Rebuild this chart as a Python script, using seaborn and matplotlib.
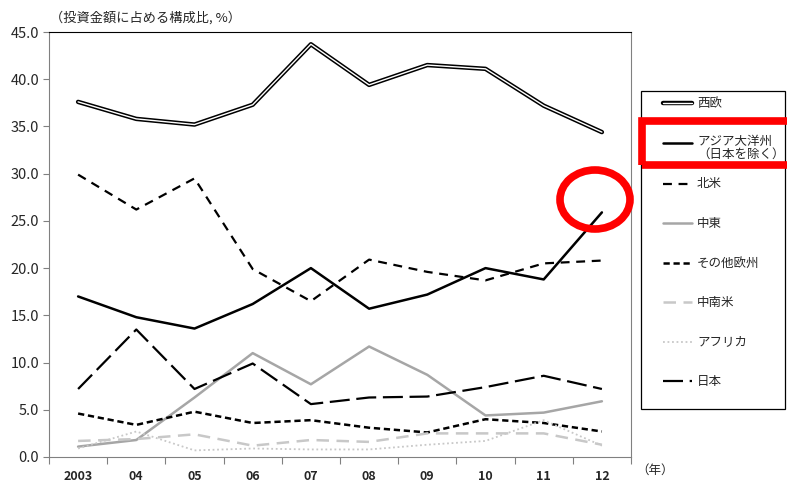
import numpy as np
import pandas as pd
import matplotlib
matplotlib.use("Agg")
import matplotlib.pyplot as plt
import matplotlib.patheffects as pe
from matplotlib.lines import Line2D
from matplotlib.patches import Ellipse, Rectangle
import seaborn as sns

# Data
years = ['2003', '04', '05', '06', '07', '08', '09', '10', '11', '12']
west_europe = [37.6, 35.8, 35.2, 37.3, 43.7, 39.4, 41.5, 41.1, 37.2, 34.4]
asia_oceania = [17.0, 14.8, 13.6, 16.2, 20.0, 15.7, 17.2, 20.0, 18.8, 25.9]
north_america = [29.9, 26.2, 29.5, 19.9, 16.5, 20.9, 19.6, 18.7, 20.5, 20.8]
middle_east = [1.1, 1.8, 6.3, 11.0, 7.7, 11.7, 8.7, 4.4, 4.7, 5.9]
other_europe = [4.6, 3.4, 4.8, 3.6, 3.9, 3.1, 2.6, 4.0, 3.6, 2.7]
latin_america = [1.7, 1.9, 2.4, 1.2, 1.8, 1.6, 2.5, 2.5, 2.5, 1.3]
africa = [0.9, 2.7, 0.7, 0.9, 0.8, 0.8, 1.3, 1.7, 3.9, 1.2]
japan = [7.2, 13.5, 7.2, 9.9, 5.6, 6.3, 6.4, 7.4, 8.6, 7.2]

labels = ['西欧', 'アジア大洋州\n（日本を除く）', '北米', '中東', 'その他欧州', '中南米', 'アフリカ', '日本']

sns.set_style("white")
plt.rcParams['font.family'] = ['Noto Sans CJK JP', 'DejaVu Sans']

fig = plt.figure(figsize=(7.87, 4.82), dpi=100)
W, H = 787, 482
ax = fig.add_axes([49 / W, (H - 457) / H, (631 - 49) / W, (457 - 32) / H])

x = np.arange(len(years))

# style for each series: (values, color, linewidth, linestyle)
styles = [
    (west_europe, 'white', 1.0, '-'),
    (asia_oceania, 'black', 1.8, '-'),
    (north_america, 'black', 1.6, (0, (4, 3))),
    (middle_east, '#a6a6a6', 1.8, '-'),
    (other_europe, 'black', 1.8, (0, (2.5, 1.5))),
    (latin_america, '#c8c8c8', 1.8, (0, (5, 3))),
    (africa, '#c8c8c8', 1.3, (0, (1, 1.5))),
    (japan, 'black', 1.6, (0, (9, 3, 9, 3))),
]
double_fx = [pe.Stroke(linewidth=3.2, foreground='black'), pe.Normal()]

for i, (vals, col, lw, ls) in enumerate(styles):
    kw = {'path_effects': double_fx} if i == 0 else {}
    sns.lineplot(x=x, y=vals, ax=ax, color=col, linewidth=lw, linestyle=ls, **kw)

ax.set_xlim(-0.5, 9.5)
ax.set_ylim(0, 45)
ax.set_yticks(np.arange(0, 45.1, 5))
ax.set_yticklabels([f"{v:.1f}" for v in np.arange(0, 45.1, 5)], fontsize=10.5)
ax.set_xticks(np.arange(-0.5, 9.6, 1))
ax.set_xticklabels([])
ax.set_xticks(x, minor=True)
ax.set_xticklabels(years, minor=True, fontsize=9, fontweight='bold')
ax.tick_params(axis='x', which='major', direction='out', length=5, color='#808080', bottom=True)
ax.tick_params(axis='x', which='minor', length=0, pad=9)
ax.tick_params(axis='y', direction='out', length=4, color='#808080', left=True, pad=3)
for s in ['left', 'bottom', 'right']:
    ax.spines[s].set_color('#808080')
ax.spines['top'].set_color('black')
ax.set_xlabel('')
ax.set_ylabel('')

fig.text(50 / W, 1 - 18 / H, '（投資金額に占める構成比, %）', fontsize=9.5, va='center', ha='left')
fig.text(636 / W, 1 - 470 / H, '（年）', fontsize=9, va='center', ha='left')

# legend box drawn by hand to match the original layout
fig.add_artist(Rectangle((641 / W, 1 - 409 / H), 144 / W, 318 / H, fill=False,
                         edgecolor='black', linewidth=0.9, transform=fig.transFigure, zorder=5))
leg_y = [103, 143, 184, 223, 263, 302, 342, 381]
for i, (vals, col, lw, ls) in enumerate(styles):
    yy = 1 - leg_y[i] / H
    if i == 7:
        ls = (0, (9, 3, 1.5, 3))
    kw = {'path_effects': double_fx} if i == 0 else {}
    fig.add_artist(Line2D([663 / W, 692 / W], [yy, yy], color=col, linewidth=lw,
                          linestyle=ls, transform=fig.transFigure, zorder=6, **kw))
    va = 'top' if i == 1 else 'center'
    ty = yy + 8 / H if i == 1 else yy
    fig.text(697 / W, ty, labels[i], fontsize=9, va=va, ha='left', linespacing=1.0, zorder=6)

# red highlight marks
fig.add_artist(Ellipse((595 / W, 1 - 199.5 / H), 70 / W, 59 / H, fill=False,
                       edgecolor='red', linewidth=5.5, transform=fig.transFigure, zorder=10))
fig.add_artist(Rectangle((641.5 / W, 1 - 164.5 / H), 160 / W, 44 / H, fill=False,
                         edgecolor='red', linewidth=5.5, transform=fig.transFigure, zorder=10))

fig.savefig('out.png', dpi=100)
